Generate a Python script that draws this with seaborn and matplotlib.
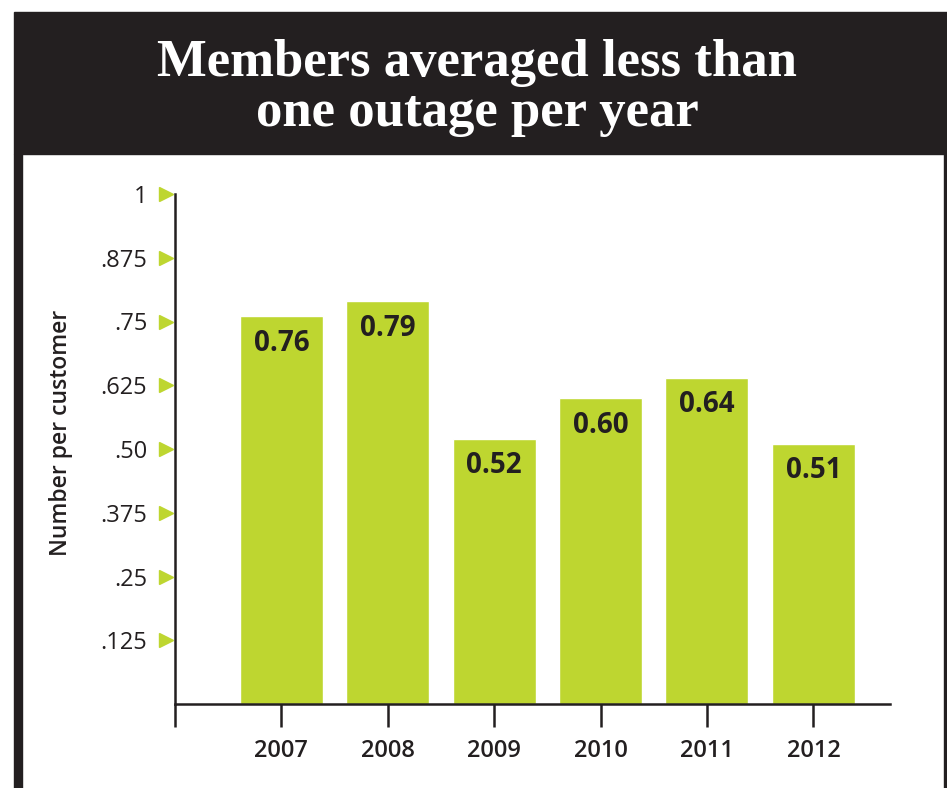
import matplotlib
matplotlib.use("Agg")
import matplotlib.pyplot as plt
import seaborn as sns
import pandas as pd
from matplotlib.patches import Rectangle

# chart data
years = ["2007", "2008", "2009", "2010", "2011", "2012"]
outages = [0.76, 0.79, 0.52, 0.60, 0.64, 0.51]
bar_labels = ["0.76", "0.79", "0.52", "0.60", "0.64", "0.51"]
y_ticks = [0.125, 0.25, 0.375, 0.5, 0.625, 0.75, 0.875, 1.0]
y_tick_labels = [".125", ".25", ".375", ".50", ".625", ".75", ".875", "1"]
title_lines = ["Members averaged less than", "one outage per year"]

DARK = "#231f20"
GREEN = "#bed630"
W, H = 947, 788

sns.set_style("white")
plt.rcParams["font.family"] = ["Open Sans", "DejaVu Sans"]

df = pd.DataFrame({"year": years, "value": outages})

fig = plt.figure(figsize=(W / 100, H / 100), dpi=100)

# dark frame: top band + side strips
fig.patches.append(Rectangle((14 / W, 1 - 154 / H), 1 - 14 / W, 142 / H,
                             transform=fig.transFigure, color=DARK, zorder=0))
fig.patches.append(Rectangle((14 / W, 0), 8 / W, 1 - 154 / H,
                             transform=fig.transFigure, color=DARK, zorder=0))
fig.patches.append(Rectangle((944 / W, 0), 3 / W, 1 - 154 / H,
                             transform=fig.transFigure, color=DARK, zorder=0))

# title
fig.text(477 / W, 1 - 76 / H, title_lines[0], color="white", ha="center",
         va="baseline", fontsize=38, fontweight="bold", family="Liberation Serif")
fig.text(477 / W, 1 - 126 / H, title_lines[1], color="white", ha="center",
         va="baseline", fontsize=38, fontweight="bold", family="Liberation Serif")

ax = fig.add_axes([175 / W, 84 / H, 715 / W, 510 / H])
ax.patch.set_alpha(0)

sns.barplot(data=df, x="year", y="value", color=GREEN, saturation=1,
            width=0.78, ax=ax)

for i, (v, lab) in enumerate(zip(outages, bar_labels)):
    ax.text(i, v - 0.053, lab, ha="center", va="center", fontsize=20,
            fontweight="bold", color=DARK)

ax.set_xlim(-1, 5.72)
ax.set_ylim(0, 1)

# x axis with an extra unlabeled tick at the left end
ax.set_xticks(range(-1, len(years)))
ax.set_xticklabels([""] + years, fontsize=17, fontweight="semibold", color=DARK)
ax.tick_params(axis="x", direction="out", length=16.5, width=1.8,
               color=DARK, pad=9, bottom=True)

ax.set_yticks(y_ticks)
ax.set_yticklabels(y_tick_labels, fontsize=17, color=DARK)
ax.tick_params(axis="y", length=0, pad=20)

# green triangle markers next to y ticks
ax.plot([-0.0126] * len(y_ticks), y_ticks, linestyle="none", marker=">",
        markersize=10, color=GREEN, transform=ax.get_yaxis_transform(),
        clip_on=False)

ax.set_xlabel("")
ax.set_ylabel("Number per customer", fontsize=16.5, fontweight="semibold",
              color=DARK)
ax.yaxis.set_label_coords(-0.142, 0.531)

sns.despine(ax=ax)
for side in ["left", "bottom"]:
    ax.spines[side].set_linewidth(1.8)
    ax.spines[side].set_color(DARK)

fig.savefig("out.png", dpi=100)
